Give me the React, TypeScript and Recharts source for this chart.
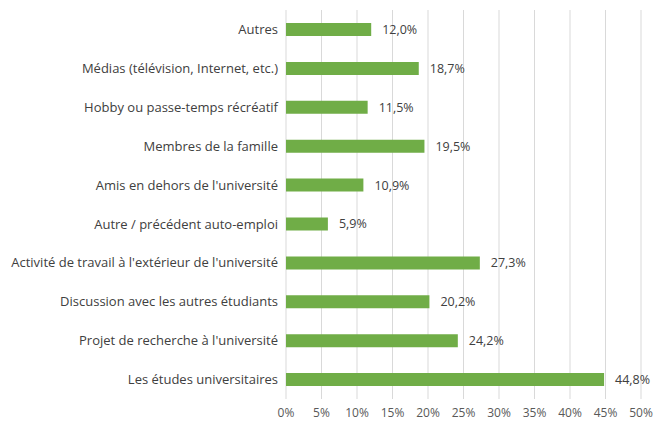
import { Bar, BarChart, CartesianGrid, LabelList, XAxis, YAxis } from "recharts";

const CATEGORIES = [
  "Autres",
  "Médias (télévision, Internet, etc.)",
  "Hobby ou passe-temps récréatif",
  "Membres de la famille",
  "Amis en dehors de l'université",
  "Autre / précédent auto-emploi",
  "Activité de travail à l'extérieur de l'université",
  "Discussion avec les autres étudiants",
  "Projet de recherche à l'université",
  "Les études universitaires",
];
const VALUES = [12.0, 18.7, 11.5, 19.5, 10.9, 5.9, 27.3, 20.2, 24.2, 44.8];
const X_TICKS = [0, 5, 10, 15, 20, 25, 30, 35, 40, 45, 50];

const data = CATEGORIES.map((name, i) => ({ name, v: VALUES[i] }));

const font = "'Open Sans', sans-serif";
const pct = (v: number) => v.toFixed(1).replace(".", ",") + "%";

// single-line category label, recharts would wrap the long one otherwise
const CatTick = (props: any) => {
  const { x, y, payload } = props;
  return (
    <text
      x={x}
      y={y}
      dy="0.355em"
      textAnchor="end"
      fill="#404040"
      fontSize={13}
      fontFamily={font}
    >
      {payload.value}
    </text>
  );
};

export default function App() {
  return (
    <div style={{ position: "absolute", left: 0, top: 0, background: "#fff" }}>
      <BarChart
        width={653}
        height={422}
        data={data}
        layout="vertical"
        margin={{ top: 10, right: 12, bottom: 0, left: 0 }}
        barCategoryGap={0}
      >
        <CartesianGrid horizontal={false} stroke="#D9D9D9" />
        <XAxis
          type="number"
          domain={[0, 50]}
          ticks={X_TICKS}
          tickFormatter={(v) => `${v}%`}
          axisLine={false}
          tickLine={false}
          height={23}
          tickMargin={3}
          tick={{ fill: "#595959", fontSize: 12, fontFamily: font }}
          interval={0}
        />
        <YAxis
          type="category"
          dataKey="name"
          width={286}
          axisLine={false}
          tickLine={false}
          interval={0}
          tick={<CatTick />}
        />
        <Bar dataKey="v" fill="#70AD47" barSize={13} isAnimationActive={false}>
          <LabelList
            dataKey="v"
            position="right"
            offset={11}
            formatter={(v: any) => pct(Number(v))}
            style={{ fill: "#404040", fontSize: 12.5, fontFamily: font }}
          />
        </Bar>
      </BarChart>
    </div>
  );
}
